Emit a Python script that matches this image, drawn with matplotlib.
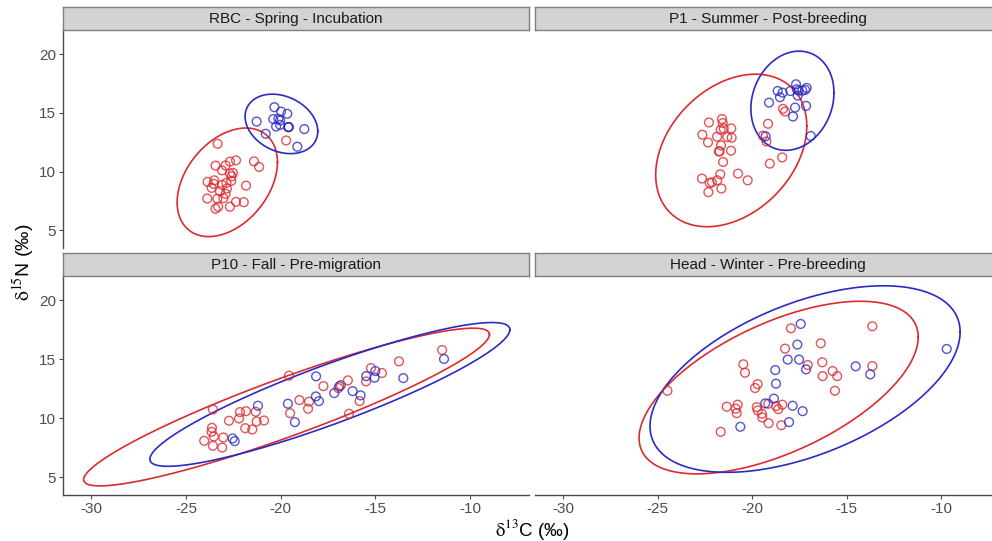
import numpy as np
import matplotlib.pyplot as plt

plt.rcParams['font.family'] = ['Liberation Sans', 'DejaVu Sans']
plt.rcParams['mathtext.fontset'] = 'stix'
plt.rcParams['axes.unicode_minus'] = False

RED = '#DC2A2E'
BLUE = '#2A2AC6'

panels = ["RBC - Spring - Incubation", "P1 - Summer - Post-breeding",
          "P10 - Fall - Pre-migration", "Head - Winter - Pre-breeding"]

# RBC - Spring
rbc_red_x = [-23.33, -23.44, -22.91, -22.68, -22.36, -21.41, -21.14, -23.10, -22.68, -22.52,
             -22.59, -23.86, -23.51, -23.54, -23.65, -23.10, -22.87, -22.61, -21.83, -23.21,
             -22.84, -22.91, -23.88, -23.35, -23.03, -22.36, -21.95, -22.68, -23.44, -23.30, -19.71]
rbc_red_y = [12.37, 10.51, 10.53, 10.85, 10.96, 10.87, 10.40, 10.11, 9.83, 9.89,
             9.60, 9.13, 9.26, 8.96, 8.62, 8.87, 9.04, 9.21, 8.81, 8.33,
             8.56, 8.11, 7.71, 7.69, 7.74, 7.43, 7.40, 7.01, 6.84, 7.01, 12.65]
rbc_blue_x = [-21.27, -20.33, -19.98, -19.65, -20.39, -20.12, -20.03, -20.24, -20.03,
              -19.59, -19.57, -19.60, -18.75, -20.79, -19.12]
rbc_blue_y = [14.26, 15.48, 15.11, 14.92, 14.47, 14.49, 14.35, 13.84, 13.98,
              13.79, 13.80, 13.78, 13.62, 13.22, 12.12]

# P1 - Summer
p1_red_x = [-18.37, -18.26, -19.16, -19.43, -19.25, -18.41, -19.07, -21.60, -22.29, -21.56,
            -21.11, -21.67, -21.51, -22.64, -21.86, -21.32, -21.09, -22.34, -21.65, -21.77,
            -21.72, -21.12, -21.54, -20.75, -20.24, -21.69, -22.66, -22.25, -22.13, -21.85,
            -22.32, -21.63]
p1_red_y = [15.34, 15.11, 14.07, 13.05, 12.57, 11.21, 10.68, 14.47, 14.18, 14.13,
            13.67, 13.56, 13.67, 13.14, 12.97, 12.94, 12.88, 12.48, 12.23, 11.72,
            11.72, 11.78, 10.82, 9.83, 9.26, 9.77, 9.41, 9.04, 9.09, 9.26,
            8.25, 8.56]
p1_blue_x = [-17.68, -18.65, -18.39, -18.53, -17.98, -17.64, -17.54, -17.35, -17.12, -17.20,
             -17.59, -19.11, -17.73, -17.15, -17.84, -19.29, -16.90]
p1_blue_y = [17.43, 16.86, 16.72, 16.33, 16.86, 17.01, 16.89, 16.89, 17.12, 16.95,
             16.47, 15.87, 15.45, 15.59, 14.69, 13.00, 13.03]

# P10 - Fall
p10_red_x = [-11.47, -13.75, -15.23, -14.65, -15.49, -16.45, -16.82, -16.95, -17.74, -15.83,
             -16.39, -19.56, -19.01, -18.50, -18.55, -19.50, -23.58, -22.15, -21.83, -21.32,
             -22.20, -22.73, -21.27, -20.88, -21.87, -21.50, -23.63, -23.65, -23.53, -24.04,
             -23.03, -23.58, -23.09]
p10_red_y = [15.78, 14.82, 14.25, 13.83, 13.12, 13.21, 12.81, 12.56, 12.72, 11.45,
             10.38, 13.61, 11.54, 11.40, 10.81, 10.43, 10.75, 10.52, 10.60, 10.55,
             9.98, 9.79, 9.73, 9.81, 9.16, 9.05, 9.19, 8.85, 8.45, 8.09,
             8.37, 7.67, 7.52]
p10_blue_x = [-11.37, -13.52, -15.00, -15.04, -15.48, -18.13, -15.78, -16.20, -17.17, -16.89,
              -18.14, -17.98, -19.62, -19.25, -21.20, -22.54, -22.43]
p10_blue_y = [15.02, 13.40, 14.00, 13.44, 13.57, 13.55, 11.94, 12.30, 12.13, 12.72,
              11.85, 11.45, 11.23, 9.67, 11.06, 8.29, 8.06]

# Head - Winter
head_red_x = [-13.64, -17.95, -16.37, -18.26, -20.47, -20.38, -16.29, -17.06, -15.74, -16.27,
              -15.50, -13.64, -15.62, -24.49, -19.71, -19.85, -21.35, -20.77, -20.87, -20.82,
              -19.76, -19.71, -19.15, -18.74, -18.62, -18.41, -19.48, -19.47, -19.13, -18.46,
              -21.67]
head_red_y = [17.79, 17.62, 16.35, 15.90, 14.57, 13.86, 14.74, 14.51, 14.00, 13.57,
              13.57, 14.42, 12.33, 12.33, 12.89, 12.56, 10.98, 11.15, 10.81, 10.43,
              10.94, 10.66, 11.23, 11.03, 10.77, 11.15, 10.38, 10.07, 9.58, 9.41,
              8.85]
head_blue_x = [-17.43, -17.61, -18.12, -17.52, -17.15, -18.78, -18.74, -14.52, -13.75, -9.70,
               -18.85, -19.31, -17.86, -17.33, -18.05, -20.63]
head_blue_y = [17.99, 16.24, 14.97, 14.97, 14.14, 14.08, 12.93, 14.40, 13.72, 15.87,
               11.66, 11.26, 11.06, 10.60, 9.67, 9.28]

# ellipse parameters per panel: centre x, centre y, half-range x, half-range y, correlation
ell_red = [(-22.82, 9.09, 2.65, 4.62, 0.37),
           (-21.11, 11.80, 4.00, 6.49, 0.32),
           (-19.69, 10.95, 10.72, 6.68, 0.92),
           (-18.60, 12.60, 7.39, 7.31, 0.585)]
ell_blue = [(-19.96, 14.06, 1.92, 2.53, -0.25),
            (-17.87, 16.03, 2.20, 4.22, 0.16),
            (-17.40, 12.02, 9.51, 6.09, 0.90),
            (-17.20, 13.32, 8.21, 7.90, 0.505)]

red_x = [rbc_red_x, p1_red_x, p10_red_x, head_red_x]
red_y = [rbc_red_y, p1_red_y, p10_red_y, head_red_y]
blue_x = [rbc_blue_x, p1_blue_x, p10_blue_x, head_blue_x]
blue_y = [rbc_blue_y, p1_blue_y, p10_blue_y, head_blue_y]

xticks = [-30, -25, -20, -15, -10]
yticks = [5, 10, 15, 20]


def ellipse(p):
    cx, cy, rx, ry, rho = p
    t = np.linspace(0, 2 * np.pi, 300)
    x = cx + rx * np.cos(t)
    y = cy + ry * (rho * np.cos(t) + np.sqrt(1 - rho ** 2) * np.sin(t))
    return x, y


W, H = 992, 541
fig = plt.figure(figsize=(W / 100, H / 100), dpi=100)

# pixel boxes (left, top, right, bottom)
boxes = [(63, 30, 529, 248), (535, 30, 1000, 248),
         (63, 276, 529, 495), (535, 276, 1000, 495)]
strips = [(63, 7, 529, 30), (535, 7, 1000, 30),
          (63, 253, 529, 276), (535, 253, 1000, 276)]


def fr(b):
    l, t, r, bt = b
    return [l / W, 1 - bt / H, (r - l) / W, (bt - t) / H]


for i in range(4):
    ax = fig.add_axes(fr(boxes[i]))
    for sp in ['top', 'right']:
        ax.spines[sp].set_visible(False)
    ax.spines['left'].set_visible(i in (0, 2))
    ax.spines['bottom'].set_visible(i in (2, 3))
    for sp in ['left', 'bottom']:
        ax.spines[sp].set_color('#4a4a4a')
        ax.spines[sp].set_linewidth(1.0)

    ax.scatter(red_x[i], red_y[i], s=40, facecolors='none', edgecolors=RED,
               linewidths=1.0, alpha=0.8, zorder=3)
    ax.scatter(blue_x[i], blue_y[i], s=40, facecolors='none', edgecolors=BLUE,
               linewidths=1.0, alpha=0.8, zorder=3)
    ex, ey = ellipse(ell_red[i])
    ax.plot(ex, ey, color=RED, lw=1.2, zorder=2)
    ex, ey = ellipse(ell_blue[i])
    ax.plot(ex, ey, color=BLUE, lw=1.2, zorder=2)

    ax.set_xlim(-31.5, -6.88)
    ax.set_ylim(3.5, 22.05)
    ax.set_xticks(xticks)
    ax.set_yticks(yticks)
    ax.tick_params(colors='#4d4d4d', labelsize=11, length=3, width=0.8,
                   labelcolor='#4d4d4d', pad=2)
    if i not in (0, 2):
        ax.tick_params(axis='y', left=False, labelleft=False)
    if i not in (2, 3):
        ax.tick_params(axis='x', bottom=False, labelbottom=False)

    sa = fig.add_axes(fr(strips[i]))
    sa.set_facecolor('#d3d3d3')
    sa.set_xticks([])
    sa.set_yticks([])
    for sp in sa.spines.values():
        sp.set_color('#7f7f7f')
        sp.set_linewidth(1.0)
    sa.text(0.5, 0.5, panels[i], ha='center', va='center', fontsize=11,
            color='#1a1a1a', transform=sa.transAxes)

fig.text(24 / W, 1 - 262 / H, r'$\mathrm{\delta}^{15}$N (‰)', rotation=90,
         ha='center', va='center', fontsize=14)
fig.text(532 / W, 1 - 529 / H, r'$\mathrm{\delta}^{13}$C (‰)', ha='center',
         va='center', fontsize=13.5)

fig.savefig('out.png', dpi=100)
